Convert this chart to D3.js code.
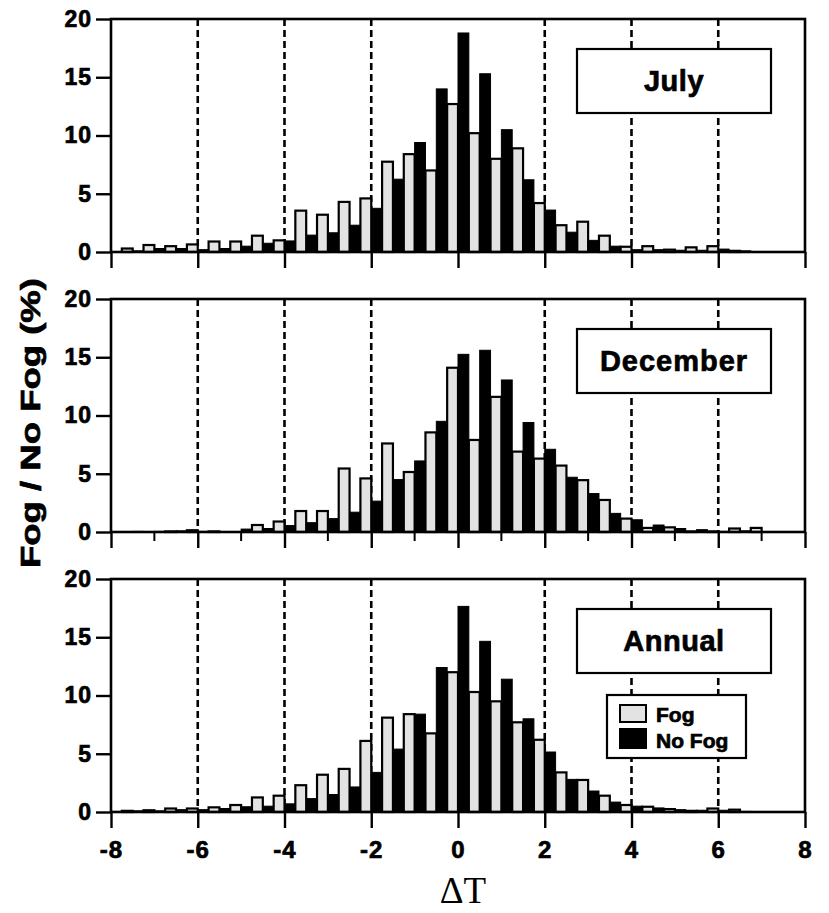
<!DOCTYPE html>
<html>
<head>
<meta charset="utf-8">
<script src="https://cdn.jsdelivr.net/npm/d3@7"></script>
<style>
  body { margin: 0; background: #fff; }
  svg text { font-family: "Liberation Sans", Arial, sans-serif; font-weight: bold; fill: #000; }
  .heavy { stroke: #000; stroke-width: 0.7px; }
</style>
</head>
<body>
<svg id="chart" width="829" height="913"></svg>
<script>

// left edge of every 0.5 wide bin (No Fog bar on the left half, Fog bar on the right half)
var bins = [-8, -7.5, -7, -6.5, -6, -5.5, -5, -4.5, -4, -3.5, -3, -2.5, -2, -1.5, -1, -0.5,
            0, 0.5, 1, 1.5, 2, 2.5, 3, 3.5, 4, 4.5, 5, 5.5, 6, 6.5, 7, 7.5];

var julyFog   = [0.3, 0.6, 0.5, 0.65, 0.9, 0.9, 1.4, 1.0, 3.55, 3.2, 4.3, 4.6, 7.75, 8.4, 7.0, 12.7,
                 10.2, 8.0, 8.9, 4.2, 2.3, 2.6, 1.4, 0.45, 0.5, 0.2, 0.4, 0.5, 0.1, 0, 0, 0];
var julyNoFog = [0, 0.1, 0.3, 0.3, 0.2, 0.3, 0.5, 0.75, 0.95, 1.45, 1.65, 2.3, 3.75, 6.25, 9.4, 14.0,
                 18.8, 15.3, 10.5, 6.2, 3.6, 1.7, 1.0, 0.5, 0.2, 0.2, 0.15, 0.15, 0.25, 0.1, 0, 0];

var decFog    = [0, 0, 0.05, 0.15, 0.05, 0, 0.6, 0.9, 1.8, 1.8, 5.45, 4.6, 7.6, 5.15, 8.55, 14.1,
                 7.9, 11.6, 6.9, 6.3, 5.7, 4.45, 2.75, 1.15, 0.35, 0.4, 0.05, 0.05, 0.3, 0.35, 0, 0];
var decNoFog  = [0, 0.05, 0.05, 0.1, 0.05, 0, 0.25, 0.3, 0.55, 0.8, 1.15, 1.7, 2.65, 4.5, 6.1, 9.5,
                 15.25, 15.6, 13.05, 9.4, 7.1, 4.7, 3.3, 1.6, 1.05, 0.6, 0.3, 0.2, 0.05, 0.1, 0, 0];

var annFog    = [0.1, 0.15, 0.3, 0.3, 0.4, 0.6, 1.25, 1.4, 2.3, 3.2, 3.7, 6.1, 8.1, 8.4, 6.75, 12.0,
                 10.3, 9.5, 7.7, 6.2, 3.4, 2.75, 1.4, 0.6, 0.45, 0.25, 0.1, 0.3, 0.2, 0, 0, 0];
var annNoFog  = [0.05, 0.1, 0.1, 0.2, 0.2, 0.3, 0.45, 0.5, 0.7, 1.15, 1.5, 2.15, 3.4, 5.4, 8.4, 12.4,
                 17.65, 14.65, 11.4, 8.0, 5.15, 2.8, 1.8, 0.85, 0.5, 0.35, 0.2, 0.15, 0.15, 0.05, 0, 0];

var panelNames = ["July", "December", "Annual"];
var xTicks = [-8, -6, -4, -2, 0, 2, 4, 6, 8];
var xMinor = [-7, -5, -3, -1, 1, 3, 5, 7];
var yTicks = [0, 5, 10, 15, 20];
var dashAt = [-6, -4, -2, 2, 4, 6];
var legendItems = ["Fog", "No Fog"];

var svg = d3.select("#chart");
var panelTop = [19, 299, 579],
    panelH = 233,
    x0 = 111, x1 = 805;

var fogFill = "#e3e3e3";

var xScale = d3.scaleLinear().domain([-8, 8]).range([x0, x1]);
var halfBin = 0.25;

function drawPanel(i, fog, noFog){
    var top = panelTop[i];
    var yScale = d3.scaleLinear().domain([0, 20]).range([top + panelH, top]);
    var g = svg.append("g");

    // dashed guides, under the bars
    g.selectAll(".dash").data(dashAt).enter().append("line")
     .attr("x1", function(d){ return xScale(d); })
     .attr("x2", function(d){ return xScale(d); })
     .attr("y1", top)
     .attr("y2", top + panelH)
     .attr("stroke", "#000")
     .attr("stroke-width", 2.6)
     .attr("stroke-dasharray", "7,4");

    // no fog bars (black)
    g.selectAll(".nofog").data(bins).enter().append("rect")
     .attr("x", function(d){ return xScale(d); })
     .attr("width", function(d){ return xScale(d + halfBin) - xScale(d); })
     .attr("y", function(d, j){ return yScale(noFog[j]); })
     .attr("height", function(d, j){ return yScale(0) - yScale(noFog[j]); })
     .attr("fill", "#000")
     .attr("stroke", "#000")
     .attr("stroke-width", 1);

    // fog bars (light, outlined)
    g.selectAll(".fog").data(bins).enter().append("rect")
     .attr("x", function(d){ return xScale(d + halfBin); })
     .attr("width", function(d){ return xScale(d + 2*halfBin) - xScale(d + halfBin); })
     .attr("y", function(d, j){ return yScale(fog[j]); })
     .attr("height", function(d, j){ return yScale(0) - yScale(fog[j]); })
     .attr("fill", fogFill)
     .attr("stroke", "#000")
     .attr("stroke-width", 2.2);

    // frame
    g.append("rect")
     .attr("x", x0).attr("y", top)
     .attr("width", x1 - x0).attr("height", panelH)
     .attr("fill", "none")
     .attr("stroke", "#000")
     .attr("stroke-width", 2.6);

    // y axis
    var ya = g.append("g")
     .attr("transform", "translate(" + x0 + ",0)")
     .call(d3.axisLeft(yScale).tickValues(yTicks).tickSize(15).tickPadding(4));
    ya.select(".domain").remove();
    ya.selectAll("line").attr("stroke-width", 2.4);
    ya.selectAll("text").attr("font-size", "23px").attr("letter-spacing", "1px")
      .attr("class", "heavy")
      .style("font-family", "'Liberation Sans', Arial, sans-serif");

    // x axis
    var xa = g.append("g")
     .attr("transform", "translate(0," + (top + panelH) + ")")
     .call(d3.axisBottom(xScale).tickValues(xTicks).tickSize(16).tickPadding(13)
           .tickFormat(function(d){ return i == 2 ? d : ""; }));
    xa.select(".domain").remove();
    xa.selectAll("line").attr("stroke-width", 2.4);
    xa.selectAll("text").attr("font-size", "24px").attr("letter-spacing", "1px")
      .attr("class", "heavy")
      .style("font-family", "'Liberation Sans', Arial, sans-serif");

    if (i == 1) {
        g.selectAll(".minor").data(xMinor).enter().append("line")
         .attr("x1", function(d){ return xScale(d); })
         .attr("x2", function(d){ return xScale(d); })
         .attr("y1", top + panelH)
         .attr("y2", top + panelH + 9)
         .attr("stroke", "#000")
         .attr("stroke-width", 2);
    }

    // name box
    g.append("rect")
     .attr("x", 577).attr("y", top + 30)
     .attr("width", 194).attr("height", 64)
     .attr("fill", "#fff")
     .attr("stroke", "#000")
     .attr("stroke-width", 2.2);
    g.append("text")
     .attr("class", "heavy")
     .attr("x", 674).attr("y", top + 72)
     .attr("text-anchor", "middle")
     .attr("font-size", "29px")
     .attr("letter-spacing", i == 1 ? "1px" : "0.5px")
     .text(panelNames[i]);

    return g;
}

drawPanel(0, julyFog, julyNoFog);
drawPanel(1, decFog, decNoFog);
var last = drawPanel(2, annFog, annNoFog);

// legend in the annual panel
var lg = last.append("g").attr("transform", "translate(607," + (panelTop[2] + 116) + ")");
lg.append("rect")
  .attr("width", 139).attr("height", 63)
  .attr("fill", "#fff")
  .attr("stroke", "#000")
  .attr("stroke-width", 2.2);
lg.selectAll(".sw").data(legendItems).enter().append("rect")
  .attr("x", 13)
  .attr("y", function(d, k){ return k == 0 ? 10 : 34; })
  .attr("width", 26)
  .attr("height", function(d, k){ return k == 0 ? 17 : 19; })
  .attr("fill", function(d, k){ return k == 0 ? fogFill : "#000"; })
  .attr("stroke", "#000")
  .attr("stroke-width", 2);
lg.selectAll(".lt").data(legendItems).enter().append("text")
  .attr("class", "heavy")
  .attr("x", 49)
  .attr("y", function(d, k){ return k == 0 ? 27 : 53; })
  .attr("font-size", "21px")
  .text(function(d){ return d; });

// axis titles
svg.append("text")
   .attr("class", "heavy")
   .attr("transform", "translate(39.5,423) rotate(-90)")
   .attr("text-anchor", "middle")
   .attr("font-size", "27px")
   .attr("textLength", 290)
   .attr("lengthAdjust", "spacingAndGlyphs")
   .text("Fog / No Fog (%)");

svg.append("text")
   .attr("x", 463)
   .attr("y", 903)
   .attr("text-anchor", "middle")
   .attr("font-size", "37px")
   .style("font-family", "'Liberation Serif', 'Times New Roman', serif")
   .style("font-weight", "normal")
   .text("\u0394T");

</script>
</body>
</html>
